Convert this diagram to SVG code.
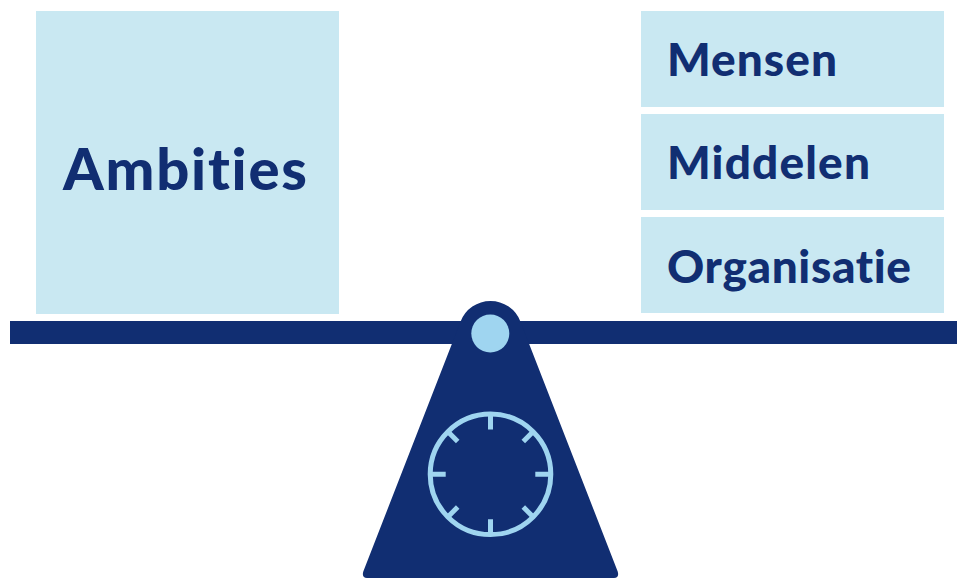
<svg xmlns="http://www.w3.org/2000/svg" width="957" height="578" viewBox="0 0 957 578">
<style>
.box{fill:#c9e8f2}
.t{font-family:"Lato","Liberation Sans",sans-serif;font-weight:900;fill:#112e72;font-variant-ligatures:none}
.dial{fill:none;stroke:#9fd5f0;stroke-width:5}
</style>
<rect width="957" height="578" fill="#fff"/>
<g id="ambities"><rect class="box" x="36" y="11" width="303" height="303"/><text class="t" x="63" y="190" font-size="58" textLength="244" lengthAdjust="spacing">Ambities</text></g>
<g id="mensen"><rect class="box" x="641" y="11" width="303" height="96"/><text class="t" x="667" y="76" font-size="46" textLength="170" lengthAdjust="spacing">Mensen</text></g>
<g id="middelen"><rect class="box" x="641" y="114" width="303" height="96"/><text class="t" x="667" y="179" font-size="46" textLength="203" lengthAdjust="spacing">Middelen</text></g>
<g id="organisatie"><rect class="box" x="641" y="217" width="303" height="96"/><text class="t" x="667" y="283" font-size="46" textLength="244" lengthAdjust="spacing">Organisatie</text></g>
<g id="balance">
<rect x="10" y="321" width="947" height="23" fill="#112e72"/>
<path d="M460.6 321.5A32 32 0 0 1 520.4 321.5L617.7 571.5Q619.5 578 614 578L367 578Q361.5 578 363.3 571.5Z" fill="#112e72"/>
<circle cx="490.3" cy="333.5" r="19" fill="#9fd5f0"/>
<circle class="dial" cx="490.5" cy="474.3" r="60.3"/>
<path class="dial" d="M490.5 416V429.5M490.5 519.2V533M432 474.3H445.7M535.3 474.3H549M448.5 432.3L457.7 441.5M532.5 432.3L523.3 441.5M448.5 516.3L457.7 507.1M532.5 516.3L523.3 507.1"/>
</g>
</svg>
